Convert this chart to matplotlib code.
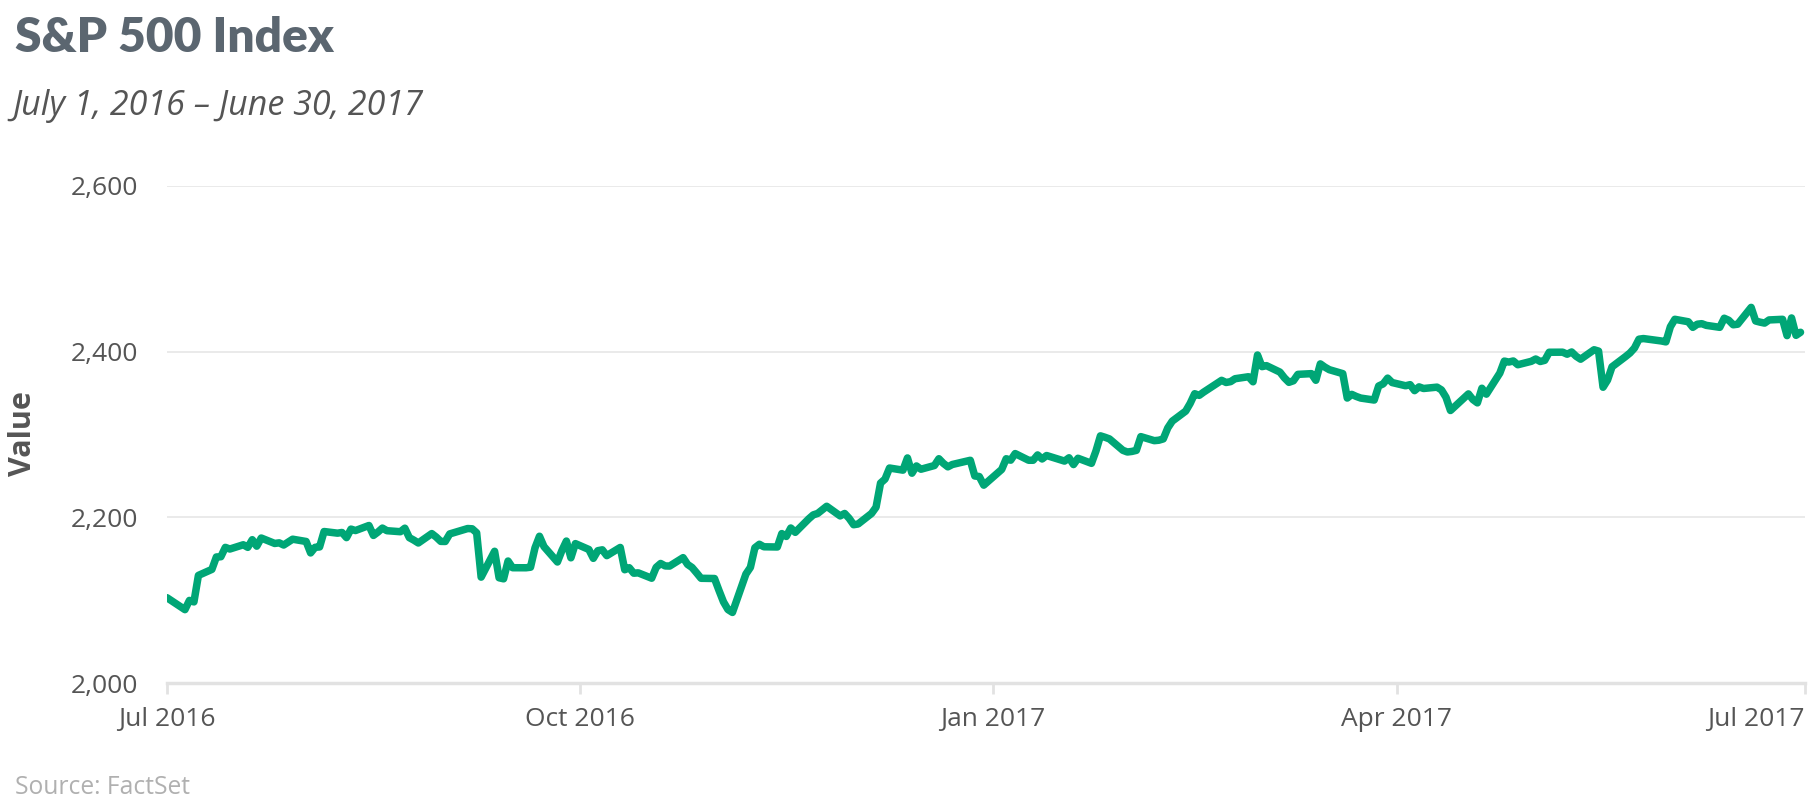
import matplotlib
matplotlib.use("Agg")
import matplotlib.pyplot as plt
import pandas as pd

# S&P 500 daily closes (trading days per month)
jul16_days = [1, 5, 6, 7, 8, 11, 12, 13, 14, 15, 18, 19, 20, 21, 22, 25, 26, 27, 28, 29]
jul16_close = [2102.95, 2088.55, 2099.73, 2097.90, 2129.90, 2137.16, 2152.14, 2152.43, 2163.75, 2161.74,
               2166.89, 2163.78, 2173.02, 2165.17, 2175.03, 2168.48, 2169.18, 2166.58, 2170.06, 2173.60]
aug16_days = [1, 2, 3, 4, 5, 8, 9, 10, 11, 12, 15, 16, 17, 18, 19, 22, 23, 24, 25, 26, 29, 30, 31]
aug16_close = [2170.84, 2157.03, 2163.79, 2164.25, 2182.87, 2180.89, 2181.74, 2175.49, 2185.79, 2184.05,
               2190.15, 2178.15, 2182.22, 2187.02, 2183.87, 2182.64, 2186.90, 2175.44, 2172.47, 2169.04,
               2180.38, 2176.12, 2170.95]
sep16_days = [1, 2, 6, 7, 8, 9, 12, 13, 14, 15, 16, 19, 20, 21, 22, 23, 26, 27, 28, 29, 30]
sep16_close = [2170.86, 2179.98, 2186.48, 2186.16, 2181.30, 2127.81, 2159.04, 2127.02, 2125.77, 2147.26,
               2139.16, 2139.12, 2139.76, 2163.12, 2177.18, 2164.69, 2146.10, 2159.93, 2171.37, 2151.13,
               2168.27]
oct16_days = [3, 4, 5, 6, 7, 10, 11, 12, 13, 14, 17, 18, 19, 20, 21, 24, 25, 26, 27, 28, 31]
oct16_close = [2161.20, 2150.49, 2159.73, 2160.77, 2153.74, 2163.66, 2136.73, 2139.18, 2132.55, 2132.98,
               2126.50, 2139.60, 2144.29, 2141.34, 2141.16, 2151.33, 2143.16, 2139.43, 2133.04, 2126.41,
               2126.15]
nov16_days = [1, 2, 3, 4, 7, 8, 9, 10, 11, 14, 15, 16, 17, 18, 21, 22, 23, 25, 28, 29, 30]
nov16_close = [2111.72, 2097.94, 2088.66, 2085.18, 2131.52, 2139.56, 2163.26, 2167.48, 2164.45, 2164.20,
               2180.39, 2176.94, 2187.12, 2181.90, 2198.18, 2202.94, 2204.72, 2213.35, 2201.72, 2204.66,
               2198.81]
dec16_days = [1, 2, 5, 6, 7, 8, 9, 12, 13, 14, 15, 16, 19, 20, 21, 22, 23, 27, 28, 29, 30]
dec16_close = [2191.08, 2191.95, 2204.71, 2212.23, 2241.35, 2246.19, 2259.53, 2256.96, 2271.72, 2253.28,
               2262.03, 2258.07, 2262.53, 2270.76, 2265.18, 2260.96, 2263.79, 2268.88, 2249.92, 2249.26,
               2238.83]
jan17_days = [3, 4, 5, 6, 9, 10, 11, 12, 13, 17, 18, 19, 20, 23, 24, 25, 26, 27, 30, 31]
jan17_close = [2257.83, 2270.75, 2269.00, 2276.98, 2268.90, 2268.90, 2275.32, 2270.44, 2274.64, 2267.89,
               2271.89, 2263.69, 2271.31, 2265.20, 2280.07, 2298.37, 2296.68, 2294.69, 2280.90, 2278.87]
feb17_days = [1, 2, 3, 6, 7, 8, 9, 10, 13, 14, 15, 16, 17, 21, 22, 23, 24, 27, 28]
feb17_close = [2279.55, 2280.85, 2297.42, 2292.56, 2293.08, 2294.67, 2307.87, 2316.10, 2328.25, 2337.58,
               2349.25, 2347.22, 2351.16, 2365.38, 2362.82, 2363.81, 2367.34, 2369.75, 2363.64]
mar17_days = [1, 2, 3, 6, 7, 8, 9, 10, 13, 14, 15, 16, 17, 20, 21, 22, 23, 24, 27, 28, 29, 30, 31]
mar17_close = [2395.96, 2381.92, 2383.12, 2375.31, 2368.39, 2362.98, 2364.87, 2372.60, 2373.47, 2365.45,
               2385.26, 2381.38, 2378.25, 2373.47, 2344.02, 2348.45, 2345.96, 2343.98, 2341.59, 2358.57,
               2361.13, 2368.06, 2362.72]
apr17_days = [3, 4, 5, 6, 7, 10, 11, 12, 13, 17, 18, 19, 20, 21, 24, 25, 26, 27, 28]
apr17_close = [2358.84, 2360.16, 2352.95, 2357.49, 2355.54, 2357.16, 2353.78, 2344.93, 2328.95, 2349.01,
               2342.19, 2338.17, 2355.84, 2348.69, 2374.15, 2388.61, 2387.45, 2388.77, 2384.20]
may17_days = [1, 2, 3, 4, 5, 8, 9, 10, 11, 12, 15, 16, 17, 18, 19, 22, 23, 24, 25, 26, 30, 31]
may17_close = [2388.33, 2391.17, 2388.13, 2389.52, 2399.29, 2399.38, 2396.92, 2399.63, 2394.44, 2390.90,
               2402.32, 2400.67, 2357.03, 2365.72, 2381.73, 2394.02, 2398.42, 2404.39, 2415.07, 2415.82,
               2412.91, 2411.80]
jun17_days = [1, 2, 5, 6, 7, 8, 9, 12, 13, 14, 15, 16, 19, 20, 21, 22, 23, 26, 27, 28, 29, 30]
jun17_close = [2430.06, 2439.07, 2436.10, 2429.33, 2433.14, 2433.79, 2431.77, 2429.39, 2440.35, 2437.92,
               2432.46, 2433.15, 2453.46, 2437.03, 2435.61, 2434.50, 2438.30, 2439.07, 2419.38, 2440.69,
               2419.70, 2423.41]

months = [
    ("2016-07", jul16_days, jul16_close), ("2016-08", aug16_days, aug16_close),
    ("2016-09", sep16_days, sep16_close), ("2016-10", oct16_days, oct16_close),
    ("2016-11", nov16_days, nov16_close), ("2016-12", dec16_days, dec16_close),
    ("2017-01", jan17_days, jan17_close), ("2017-02", feb17_days, feb17_close),
    ("2017-03", mar17_days, mar17_close), ("2017-04", apr17_days, apr17_close),
    ("2017-05", may17_days, may17_close), ("2017-06", jun17_days, jun17_close),
]

y_ticks = [2000, 2200, 2400, 2600]
x_ticks = ["2016-07-01", "2016-10-01", "2017-01-01", "2017-04-01", "2017-07-01"]
x_tick_labels = ["Jul 2016", "Oct 2016", "Jan 2017", "Apr 2017", "Jul 2017"]

dates = []
closes = []
for ym, days, vals in months:
    dates += [pd.Timestamp(f"{ym}-{d:02d}") for d in days]
    closes += vals

W, H = 1817, 808
fig = plt.figure(figsize=(W / 100, H / 100), dpi=100)
fig.patch.set_facecolor("white")

left, right, top, bottom = 167, 1805, 186, 683
ax = fig.add_axes([left / W, 1 - bottom / H, (right - left) / W, (bottom - top) / H])

ax.plot(dates, closes, color="#00a676", lw=5.4, solid_joinstyle="round", solid_capstyle="round", zorder=3)

ax.set_ylim(2000, 2600)
ax.set_xlim(pd.Timestamp("2016-07-01"), pd.Timestamp("2017-07-01"))
ax.set_yticks(y_ticks)
ax.set_yticklabels([f"{v:,}" for v in y_ticks])
ax.set_xticks([pd.Timestamp(d) for d in x_ticks])
ax.set_xticklabels(x_tick_labels)

for s in ["top", "right", "left"]:
    ax.spines[s].set_visible(False)
ax.spines["bottom"].set_color("#e2e2e2")
ax.spines["bottom"].set_linewidth(2.5)
ax.grid(axis="y", color="#e4e4e4", lw=1.1)
ax.set_axisbelow(True)

ax.tick_params(axis="y", length=0, pad=21, labelsize=19, labelcolor="#555555")
ax.tick_params(axis="x", length=8, width=2, color="#e2e2e2", pad=9, labelsize=19, labelcolor="#555555")
for lbl in ax.get_xticklabels() + ax.get_yticklabels():
    lbl.set_fontfamily("Open Sans")
ax.get_xticklabels()[-1].set_horizontalalignment("right")

fig.text(15 / W, 1 - 52 / H, "S&P 500 Index", fontsize=34.5, fontweight="heavy",
         color="#5b6670", family="Lato", va="baseline", ha="left")
fig.text(12 / W, 1 - 115 / H, "July 1, 2016 – June 30, 2017", fontsize=24.5, style="italic",
         color="#555555", family="Open Sans", va="baseline", ha="left")
fig.text(23 / W, 1 - 434 / H, "Value", fontsize=22, fontweight="bold", color="#555555",
         family="Open Sans", rotation=90, va="center", ha="center")
fig.text(15 / W, 1 - 788 / H, "Source: FactSet", fontsize=17.7, color="#b0b0b0",
         family="Open Sans", va="center", ha="left")

fig.savefig("out.png", dpi=100, facecolor="white")
